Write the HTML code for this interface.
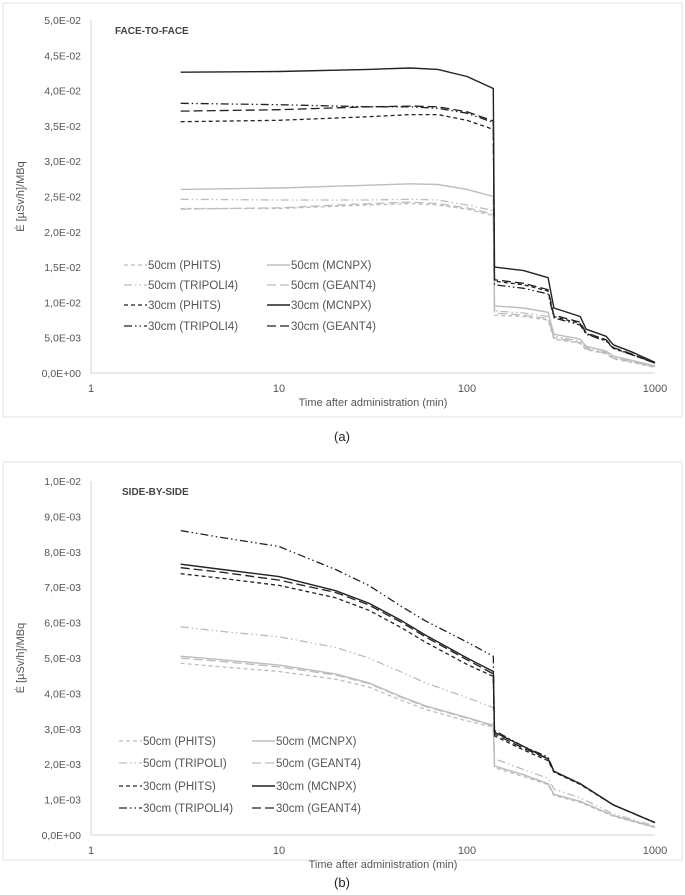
<!DOCTYPE html>
<html><head><meta charset="utf-8">
<style>
html,body{margin:0;padding:0;background:#fff;}
svg text{font-family:"Liberation Sans",sans-serif;}
</style></head>
<body>
<svg id="svg" width="685" height="890" viewBox="0 0 685 890" xmlns="http://www.w3.org/2000/svg">
<rect x="0" y="0" width="685" height="890" fill="#fff"/>
<rect x="3" y="3" width="679" height="414" fill="none" stroke="#e3e3e3"/>
<rect x="3" y="462" width="679" height="398" fill="none" stroke="#e3e3e3"/>
<text x="342" y="441" font-size="13" text-anchor="middle" fill="#222">(a)</text>
<text x="342" y="887" font-size="13" text-anchor="middle" fill="#222">(b)</text>
<g id="gA"></g>
<g id="gB"></g>
</svg>
<script>
// Panel (a) data, values in units of 1E-02
const timesA=[3,10,30,50,70,100,138,140,200,270,290,400,430,550,600,750,1000];
const a30MCNPX=[4.26,4.27,4.30,4.32,4.30,4.20,4.03,1.50,1.45,1.35,0.92,0.80,0.62,0.52,0.40,0.30,0.15];
const a30TRIPOLI4=[3.82,3.80,3.77,3.77,3.75,3.68,3.55,1.25,1.20,1.12,0.78,0.68,0.55,0.45,0.35,0.26,0.14];
const a30GEANT4=[3.71,3.73,3.77,3.78,3.77,3.70,3.57,1.32,1.27,1.18,0.82,0.72,0.57,0.47,0.36,0.27,0.14];
const a30PHITS=[3.56,3.58,3.63,3.66,3.66,3.58,3.45,1.30,1.25,1.16,0.80,0.70,0.56,0.46,0.35,0.26,0.14];
const a50MCNPX=[2.60,2.62,2.66,2.68,2.67,2.60,2.50,0.95,0.92,0.86,0.55,0.48,0.38,0.31,0.24,0.18,0.10];
const a50TRIPOLI4=[2.46,2.45,2.45,2.46,2.45,2.38,2.30,0.88,0.85,0.80,0.52,0.45,0.36,0.29,0.22,0.17,0.09];
const a50GEANT4=[2.32,2.34,2.40,2.42,2.40,2.34,2.25,0.85,0.82,0.77,0.50,0.43,0.34,0.28,0.21,0.16,0.09];
const a50PHITS=[2.33,2.33,2.38,2.40,2.38,2.32,2.23,0.82,0.80,0.75,0.48,0.42,0.33,0.27,0.20,0.15,0.08];
const yTicksA=["0,0E+00","5,0E-03","1,0E-02","1,5E-02","2,0E-02","2,5E-02","3,0E-02","3,5E-02","4,0E-02","4,5E-02","5,0E-02"];
// Panel (b) data, values in units of 1E-03
const timesB=[3,5,10,20,30,45,60,100,138,140,200,270,290,400,600,1000];
const b30TRIPOLI4=[8.6,8.4,8.15,7.5,7.05,6.45,6.05,5.45,5.05,2.95,2.5,2.2,1.8,1.45,0.85,0.35];
const b30MCNPX=[7.65,7.5,7.3,6.9,6.55,6.05,5.65,5.0,4.62,2.9,2.5,2.15,1.8,1.45,0.85,0.35];
const b30GEANT4=[7.55,7.42,7.2,6.85,6.5,6.0,5.6,4.95,4.55,2.85,2.45,2.15,1.8,1.45,0.85,0.35];
const b30PHITS=[7.38,7.25,7.05,6.7,6.35,5.85,5.45,4.82,4.48,2.8,2.4,2.1,1.78,1.43,0.85,0.35];
const b50TRIPOLI=[5.88,5.75,5.6,5.3,5.0,4.6,4.3,3.88,3.6,2.15,1.85,1.6,1.3,1.05,0.6,0.25];
const b50MCNPX=[5.05,4.95,4.8,4.55,4.3,3.9,3.65,3.32,3.1,1.95,1.7,1.45,1.15,0.95,0.55,0.22];
const b50GEANT4=[5.0,4.9,4.75,4.52,4.28,3.88,3.63,3.3,3.08,1.95,1.7,1.45,1.15,0.95,0.55,0.22];
const b50PHITS=[4.85,4.75,4.62,4.4,4.18,3.8,3.55,3.22,3.05,1.9,1.65,1.42,1.12,0.92,0.53,0.21];
const yTicksB=["0,0E+00","1,0E-03","2,0E-03","3,0E-03","4,0E-03","5,0E-03","6,0E-03","7,0E-03","8,0E-03","9,0E-03","1,0E-02"];
const xTicks=[1,10,100,1000];

const NS="http://www.w3.org/2000/svg";
const BLK="#222",GRY="#bdbdbd";
const styles={
 phits:{dash:"4,3",w:1.3},mcnpx:{dash:"",w:1.4},trip:{dash:"8,3,1.5,3,1.5,3",w:1.3},geant:{dash:"9,4",w:1.3}
};
function mk(tag,attrs,parent){const e=document.createElementNS(NS,tag);for(const k in attrs)e.setAttribute(k,attrs[k]);parent.appendChild(e);return e;}

function drawChart(g,cfg){
 const L=91,R=655,top=cfg.top,bot=cfg.bot;
 const xs=t=>L+(R-L)*Math.log10(t)/3;
 const ys=v=>bot-(bot-top)*v/cfg.ymax;
 const ax=mk('line',{x1:L,y1:top,x2:L,y2:bot,stroke:"#d0d0d0"},g);
 
 const bx=mk('line',{x1:L,y1:bot,x2:R,y2:bot,stroke:"#d0d0d0"},g);
 
 cfg.yTicks.forEach((lab,i)=>{
  const t=mk('text',{x:L-10,y:ys(i*cfg.ymax/10)+4,"font-size":"10.5","text-anchor":"end",fill:"#555"},g);
  t.textContent=lab;
  
 });
 xTicks.forEach(v=>{
  const t=mk('text',{x:xs(v),y:bot+19,"font-size":"11","text-anchor":"middle",fill:"#555"},g);
  t.textContent=v;
  
 });
 const xt=mk('text',{x:(L+R)/2+cfg.xtOff,y:bot+33,"font-size":"11","text-anchor":"middle",fill:"#555"},g);
 xt.textContent="Time after administration (min)";
 
 const cy=(top+bot)/2;
 const yt=mk('text',{x:24,y:cy,"font-size":"11","text-anchor":"middle",fill:"#555",transform:`rotate(-90 24 ${cy})`},g);
 yt.textContent="Ė [µSv/h]/MBq";
 
 const ti=mk('text',{x:cfg.titleX,y:top+14,"font-size":"10","font-weight":"bold",fill:"#444"},g);
 ti.textContent=cfg.title;
 
 cfg.series.forEach(s=>{
  const st=styles[s.type];
  const d=s.vals.map((v,i)=>(i?'L':'M')+xs(cfg.times[i]).toFixed(1)+','+ys(v).toFixed(1)).join(' ');
  const p=mk('path',{d:d,fill:"none",stroke:s.col,"stroke-width":st.w,"stroke-dasharray":st.dash,"stroke-linejoin":"round"},g);
  
  
 });
 cfg.series.forEach((s,i)=>{
  const st=styles[s.type];
  const col=i%2, row=Math.floor(i/2);
  const lx=cfg.legX[col], ly=cfg.legY[row];
  const ln=mk('line',{x1:lx,y1:ly,x2:lx+23,y2:ly,stroke:s.col,"stroke-width":st.w,"stroke-dasharray":st.dash},g);
  
  const tx=mk('text',{x:lx+24,y:ly+4,"font-size":"11.5",fill:"#555"},g);
  tx.textContent=s.name;
  
 });
}
drawChart(document.getElementById('gA'),{
 top:20,bot:373,ymax:5,times:timesA,yTicks:yTicksA,title:"FACE-TO-FACE",titleX:115,xtOff:0,
 legX:[124,267],legY:[265,285,305,326],
 series:[
  {name:"50cm (PHITS)",type:"phits",col:GRY,vals:a50PHITS},
  {name:"50cm (MCNPX)",type:"mcnpx",col:GRY,vals:a50MCNPX},
  {name:"50cm (TRIPOLI4)",type:"trip",col:GRY,vals:a50TRIPOLI4},
  {name:"50cm (GEANT4)",type:"geant",col:GRY,vals:a50GEANT4},
  {name:"30cm (PHITS)",type:"phits",col:BLK,vals:a30PHITS},
  {name:"30cm (MCNPX)",type:"mcnpx",col:BLK,vals:a30MCNPX},
  {name:"30cm (TRIPOLI4)",type:"trip",col:BLK,vals:a30TRIPOLI4},
  {name:"30cm (GEANT4)",type:"geant",col:BLK,vals:a30GEANT4}
 ]});
drawChart(document.getElementById('gB'),{
 top:481,bot:835,ymax:10,times:timesB,yTicks:yTicksB,title:"SIDE-BY-SIDE",titleX:122,xtOff:10,
 legX:[119,252],legY:[741,763,786,808],
 series:[
  {name:"50cm (PHITS)",type:"phits",col:GRY,vals:b50PHITS},
  {name:"50cm (MCNPX)",type:"mcnpx",col:GRY,vals:b50MCNPX},
  {name:"50cm (TRIPOLI)",type:"trip",col:GRY,vals:b50TRIPOLI},
  {name:"50cm (GEANT4)",type:"geant",col:GRY,vals:b50GEANT4},
  {name:"30cm (PHITS)",type:"phits",col:BLK,vals:b30PHITS},
  {name:"30cm (MCNPX)",type:"mcnpx",col:BLK,vals:b30MCNPX},
  {name:"30cm (TRIPOLI4)",type:"trip",col:BLK,vals:b30TRIPOLI4},
  {name:"30cm (GEANT4)",type:"geant",col:BLK,vals:b30GEANT4}
 ]});
</script>
</body></html>
